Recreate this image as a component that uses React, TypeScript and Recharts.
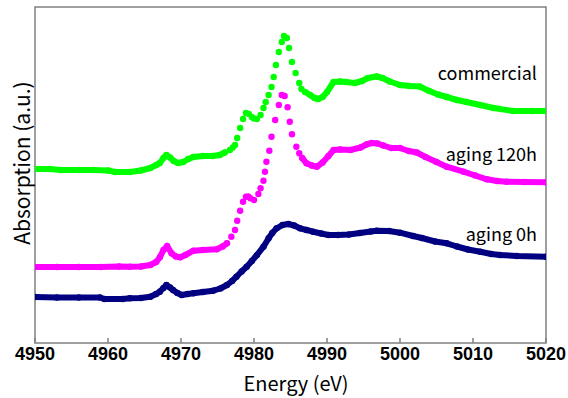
import React from 'react';
import { ComposedChart, Scatter, XAxis, YAxis, ReferenceArea } from 'recharts';

// x axis
const ENERGY_TICKS = [4950, 4960, 4970, 4980, 4990, 5000, 5010, 5020];
const ENERGY_DOMAIN = [4950, 5020];
const ABS_DOMAIN = [0, 3.36];

// [energy (eV), absorption (a.u.)]
const commercial: [number, number][] = [
  [4950, 1.74], [4952, 1.74], [4953.5, 1.73], [4956, 1.73], [4958, 1.73], [4960, 1.725],
  [4961, 1.71], [4963, 1.71], [4964.5, 1.725], [4965.8, 1.75], [4966.6, 1.78], [4967.1, 1.8],
  [4967.6, 1.85], [4968, 1.88], [4968.5, 1.855], [4969, 1.82], [4969.6, 1.8], [4970.3, 1.81],
  [4971, 1.84], [4971.7, 1.86], [4973, 1.87], [4974.3, 1.87], [4975.3, 1.88], [4976, 1.905],
  [4976.7, 1.93], [4977.1, 1.955], [4977.4, 1.98], [4977.7, 2.05], [4978.1, 2.15], [4978.5, 2.24],
  [4978.9, 2.3], [4979.3, 2.29], [4979.7, 2.26], [4980, 2.245], [4980.4, 2.24], [4980.9, 2.28],
  [4981.3, 2.35], [4981.6, 2.41], [4982, 2.48], [4982.4, 2.56], [4982.7, 2.66], [4983, 2.78],
  [4983.4, 2.91], [4983.8, 3.01], [4984.1, 3.07], [4984.5, 3.05], [4984.8, 2.95], [4985.2, 2.81],
  [4985.7, 2.7], [4986.2, 2.6], [4986.5, 2.54],
  [4987, 2.51], [4987.7, 2.48], [4988.3, 2.45], [4988.8, 2.44], [4989.4, 2.46], [4990, 2.51],
  [4990.9, 2.61], [4991.8, 2.615], [4992.6, 2.61], [4993.8, 2.6], [4994.8, 2.62],
  [4995.6, 2.65], [4996.8, 2.665], [4997.6, 2.65], [4998.6, 2.615], [5000, 2.58],
  [5001.3, 2.57], [5002.7, 2.565], [5004, 2.52], [5005.2, 2.485], [5006.4, 2.46], [5007.8, 2.43],
  [5009.1, 2.41], [5011, 2.38], [5012.8, 2.35], [5015.5, 2.32], [5018, 2.32], [5020, 2.32],
];

const aging120h: [number, number][] = [
  [4950, 0.76], [4953, 0.76], [4956, 0.76], [4959, 0.76], [4961.5, 0.765], [4963, 0.763],
  [4964.5, 0.765], [4965.8, 0.78], [4966.6, 0.81], [4967.1, 0.857], [4967.6, 0.93], [4968.1, 0.97],
  [4968.7, 0.897], [4969.3, 0.865], [4969.9, 0.857], [4970.6, 0.88], [4971.7, 0.923], [4973, 0.93],
  [4974.9, 0.937], [4975.7, 0.965], [4976.3, 0.997],
  [4976.9, 1.063], [4977.4, 1.13], [4977.7, 1.223], [4978.1, 1.323], [4978.5, 1.413], [4978.9, 1.463],
  [4979.2, 1.465], [4979.5, 1.447], [4980, 1.43], [4980.6, 1.49], [4980.9, 1.547], [4981.3, 1.623],
  [4981.5, 1.713], [4981.7, 1.813], [4982.1, 1.923], [4982.4, 2.063], [4982.9, 2.23], [4983.4, 2.38],
  [4983.8, 2.48], [4984.2, 2.47], [4984.6, 2.357], [4984.9, 2.213], [4985.2, 2.087], [4985.8, 1.963],
  [4986.2, 1.897],
  [4986.6, 1.85], [4987.2, 1.797], [4987.9, 1.775], [4988.6, 1.763], [4989.4, 1.805], [4990.2, 1.87],
  [4990.9, 1.93], [4991.8, 1.935], [4993.2, 1.93], [4994.6, 1.955], [4995.4, 1.985],
  [4996.1, 2.0], [4996.9, 1.995], [4997.7, 1.975], [4998.8, 1.95], [5000, 1.95], [5001.2, 1.92],
  [5002.3, 1.905], [5003.5, 1.86], [5005, 1.81], [5006.4, 1.763], [5008.7, 1.713], [5010.3, 1.675],
  [5011.9, 1.637], [5013.3, 1.62], [5014.6, 1.613], [5017, 1.61], [5020, 1.607],
];

const aging0h: [number, number][] = [
  [4950, 0.46], [4953, 0.455], [4956, 0.455], [4958.9, 0.455], [4959.5, 0.44], [4962, 0.44],
  [4963, 0.447], [4964.5, 0.45], [4965.8, 0.463], [4966.6, 0.49], [4967.1, 0.513], [4967.6, 0.55],
  [4968, 0.58], [4968.5, 0.555], [4968.9, 0.53], [4969.5, 0.5], [4970.1, 0.48], [4970.9, 0.49],
  [4971.7, 0.497], [4973, 0.51], [4974.4, 0.523], [4975.4, 0.545], [4976.3, 0.58], [4977, 0.62],
  [4977.6, 0.663], [4978.3, 0.715], [4979, 0.763], [4979.7, 0.82], [4980.4, 0.88], [4981.3, 0.963],
  [4982, 1.047], [4982.5, 1.1], [4983.1, 1.147], [4983.9, 1.18], [4984.7, 1.19], [4985.5, 1.175],
  [4986.3, 1.147], [4987.2, 1.13], [4988.1, 1.113], [4989.2, 1.095], [4990.2, 1.08], [4991.5, 1.08],
  [4993, 1.085], [4994.5, 1.1], [4996, 1.115], [4996.8, 1.123], [4998.5, 1.12], [5000, 1.103],
  [5001.8, 1.07], [5003, 1.05], [5004.8, 1.015], [5006.4, 0.997], [5007.8, 0.965], [5009.3, 0.935],
  [5011, 0.913], [5012.5, 0.89], [5013.7, 0.88], [5016, 0.87], [5020, 0.863],
];

// steep part of the edge where the dots stand apart
const commercialEdge: [number, number] = [4976.5, 4986.6];
const aging120hEdge: [number, number] = [4976.6, 4986.3];

const FONT = '"Noto Sans CJK JP", "Noto Sans", sans-serif';
const TICK_FONT = '"Liberation Sans", Arial, sans-serif';

const split = (pts: [number, number][], edge?: [number, number]) => {
  const rows = pts.map(([e, a]) => ({ e, a }));
  if (!edge) return { pre: rows, dots: [] as any[], post: [] as any[] };
  return {
    pre: rows.filter((r) => r.e < edge[0]),
    dots: rows.filter((r) => r.e >= edge[0] && r.e <= edge[1]),
    post: rows.filter((r) => r.e > edge[1]),
  };
};

const series = [
  { name: 'aging 0h', color: '#000080', ...split(aging0h) },
  { name: 'aging 120h', color: '#ff00ff', ...split(aging120h, aging120hEdge) },
  { name: 'commercial', color: '#00ff00', ...split(commercial, commercialEdge) },
];

const dot = (color: string) => (p: any) => <circle cx={p.cx} cy={p.cy} r={3.2} fill={color} />;

const EnergyTick = ({ x, y, payload }: any) => (
  <g>
    <line x1={x} x2={x} y1={y - 5} y2={y} stroke="#808080" strokeWidth={1.5} />
    <text x={x} y={y + 17} textAnchor="middle" fontSize={18} fontWeight="bold" fontFamily={TICK_FONT} fill="#000">
      {payload.value}
    </text>
  </g>
);

const seriesLabels = [
  { text: 'commercial', top: 72 },
  { text: 'aging 120h', top: 153 },
  { text: 'aging 0h', top: 233 },
];

const lineStyle = (color: string) => ({
  stroke: color,
  strokeWidth: 6,
  strokeLinejoin: 'round',
  strokeLinecap: 'round',
});

export default function App() {
  return (
    <div style={{ position: 'absolute', left: 0, top: 0, width: 568, height: 398, background: '#fff', fontFamily: FONT }}>
      <ComposedChart width={568} height={398} margin={{ top: 7, right: 22, bottom: 0, left: 35 }}>
        <XAxis
          dataKey="e"
          type="number"
          domain={ENERGY_DOMAIN}
          ticks={ENERGY_TICKS}
          allowDataOverflow
          axisLine={false}
          tickLine={false}
          tickSize={0}
          tickMargin={0}
          tick={<EnergyTick />}
          height={55}
        />
        <YAxis dataKey="a" type="number" domain={ABS_DOMAIN} hide width={0} />
        <ReferenceArea
          x1={ENERGY_DOMAIN[0]}
          x2={ENERGY_DOMAIN[1]}
          y1={ABS_DOMAIN[0]}
          y2={ABS_DOMAIN[1]}
          fill="none"
          stroke="#808080"
          strokeWidth={1.5}
        />
        {series.map((s) => [
          <Scatter
            key={s.name + '-pre'}
            data={s.pre}
            dataKey="a"
            line={lineStyle(s.color)}
            shape={dot(s.color)}
            isAnimationActive={false}
          />,
          <Scatter key={s.name + '-dots'} data={s.dots} dataKey="a" shape={dot(s.color)} isAnimationActive={false} />,
          <Scatter
            key={s.name + '-post'}
            data={s.post}
            dataKey="a"
            line={lineStyle(s.color)}
            shape={dot(s.color)}
            isAnimationActive={false}
          />,
        ])}
      </ComposedChart>

      {seriesLabels.map((l) => (
        <div
          key={l.text}
          style={{ position: 'absolute', right: 31, top: l.top - 11, fontSize: 18, lineHeight: '22px', color: '#000' }}
        >
          {l.text}
        </div>
      ))}
      <div style={{ position: 'absolute', left: 196, width: 200, top: 373, textAlign: 'center', fontSize: 20, lineHeight: '20px', whiteSpace: 'nowrap' }}>
        Energy (eV)
      </div>
      <div
        style={{
          position: 'absolute',
          left: 21,
          top: 163,
          transform: 'translate(-50%, -50%) rotate(-90deg)',
          whiteSpace: 'nowrap',
          fontSize: 21,
          lineHeight: '24px',
        }}
      >
        Absorption (a.u.)
      </div>
    </div>
  );
}
